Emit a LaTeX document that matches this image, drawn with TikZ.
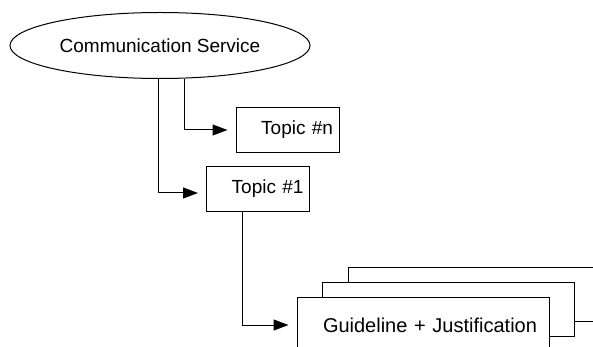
\documentclass[tikz,border=0pt]{standalone}
\usepackage{fontspec}
\setmainfont{Liberation Sans}
\usetikzlibrary{arrows.meta, positioning, calc, shapes.geometric}

\begin{document}
\begin{tikzpicture}[
        x=1pt, y=-1pt, line width=1pt,
        >={Triangle[length=15pt, width=11pt]},
        % ---- styles ----
        service/.style = {draw, ellipse, minimum width=300pt, minimum height=66pt, inner sep=0pt,
                          font=\fontsize{19}{19}\selectfont},
        topic/.style   = {draw, rectangle, fill=white, minimum height=45pt, inner sep=0pt,
                          inner xsep=6pt, text width=91pt, align=right,
                          font=\fontsize{19}{19}\selectfont},
        sheet/.style   = {draw, rectangle, fill=white, minimum width=252pt, minimum height=54pt,
                          inner sep=0pt},
        flow/.style    = {->, shorten >=8pt}
    ]
    \useasboundingbox (0,0) rectangle (593,347);
    \clip (0,0) rectangle (593,347);

    % service at the top
    \node[service] (svc) at (160,45.5) {Communication Service};

    % topics
    \node[topic] (topicn) at (287.5,130) {Topic \#n};
    \node[topic] (topic1) at (258,189) {Topic \#1};

    % stack of guideline sheets (back to front)
    \node[sheet] (sheet3) at (474.5,294) {};
    \node[sheet] (sheet2) at (448.5,309) {};
    \node[sheet, minimum height=56pt, inner xsep=12pt, text width=228pt, align=right,
          font=\fontsize{20}{20}\selectfont] (guide) at (423,325) {Guideline + Justification};

    % ---- connectors ----
    \draw[flow] ([xshift=24pt]svc.south) |- (topicn.west);
    \draw[flow] ([xshift=-2pt]svc.south) |- ([yshift=-4pt]topic1.west);
    \draw[flow] ([xshift=-16pt]topic1.south) |- (guide.west);

\end{tikzpicture}
\end{document}
